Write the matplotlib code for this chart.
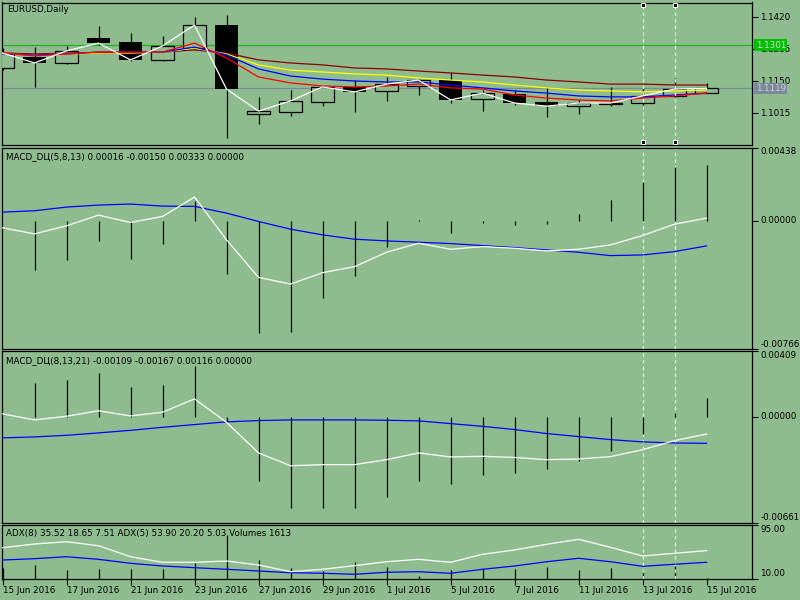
import matplotlib
matplotlib.use('Agg')
import matplotlib.pyplot as plt
import matplotlib.transforms as mtransforms
import numpy as np

# EURUSD daily, 15 Jun - 15 Jul 2016
dates = ['15 Jun 2016', '16 Jun 2016', '17 Jun 2016', '20 Jun 2016', '21 Jun 2016',
         '22 Jun 2016', '23 Jun 2016', '24 Jun 2016', '27 Jun 2016', '28 Jun 2016',
         '29 Jun 2016', '30 Jun 2016', '1 Jul 2016', '4 Jul 2016', '5 Jul 2016',
         '6 Jul 2016', '7 Jul 2016', '8 Jul 2016', '11 Jul 2016', '12 Jul 2016',
         '13 Jul 2016', '14 Jul 2016', '15 Jul 2016']

opens = [1.1205, 1.1251, 1.1226, 1.1331, 1.1315, 1.1239, 1.1289, 1.1386, 1.1011, 1.1019, 1.1061, 1.1125,
         1.1108, 1.1129, 1.1154, 1.1074, 1.1095, 1.1061, 1.1044, 1.1053, 1.1057, 1.1087, 1.1099]
highs = [1.1290, 1.1293, 1.1298, 1.1382, 1.1352, 1.1340, 1.1420, 1.1428, 1.1082, 1.1112, 1.1128, 1.1154,
         1.1167, 1.1158, 1.1184, 1.1112, 1.1112, 1.1125, 1.1070, 1.1125, 1.1121, 1.1162, 1.1142]
lows = [1.1195, 1.1125, 1.1222, 1.1302, 1.1236, 1.1234, 1.1287, 1.0910, 1.0968, 1.1002, 1.1045, 1.1019,
        1.1066, 1.1091, 1.1057, 1.1023, 1.1049, 1.0998, 1.1011, 1.1044, 1.1036, 1.1082, 1.1099]
closes = [1.1268, 1.1226, 1.1277, 1.1310, 1.1239, 1.1298, 1.1386, 1.1116, 1.1023, 1.1066, 1.1125, 1.1104,
          1.1137, 1.1154, 1.1070, 1.1099, 1.1057, 1.1044, 1.1057, 1.1057, 1.1087, 1.1116, 1.1119]

ma_red = [1.1268, 1.1256, 1.1264, 1.1272, 1.1272, 1.1272, 1.1310, 1.1247, 1.1167, 1.1142, 1.1129, 1.1125,
          1.1129, 1.1137, 1.1121, 1.1116, 1.1091, 1.1078, 1.1070, 1.1066, 1.1078, 1.1087, 1.1099]
ma_blue = [1.1264, 1.1260, 1.1264, 1.1272, 1.1272, 1.1272, 1.1293, 1.1260, 1.1201, 1.1171, 1.1158, 1.1150,
           1.1146, 1.1146, 1.1133, 1.1121, 1.1108, 1.1099, 1.1087, 1.1083, 1.1083, 1.1091, 1.1099]
ma_yellow = [1.1264, 1.1260, 1.1264, 1.1268, 1.1268, 1.1272, 1.1289, 1.1264, 1.1218, 1.1196, 1.1188, 1.1180,
             1.1175, 1.1163, 1.1154, 1.1146, 1.1133, 1.1121, 1.1112, 1.1108, 1.1104, 1.1108, 1.1112]
ma_maroon = [1.1268, 1.1264, 1.1268, 1.1268, 1.1268, 1.1272, 1.1281, 1.1268, 1.1239, 1.1226, 1.1218, 1.1205,
             1.1201, 1.1192, 1.1184, 1.1175, 1.1167, 1.1154, 1.1146, 1.1137, 1.1137, 1.1133, 1.1133]

nan = np.nan
macd1_hist = [nan, -0.00294, -0.00234, -0.00120, -0.00228, -0.00138, 0.00120, -0.00318, -0.00671, -0.00665,
              -0.00462, -0.00329, -0.00156, 0.00004, -0.00072, -0.00012, -0.00024, -0.00019, 0.00038, 0.00124,
              0.00234, 0.00324, 0.00333]
macd1_main = [-0.00042, -0.00078, -0.00030, 0.00034, -0.00010, 0.00026, 0.00142, -0.00114, -0.00338, -0.00378,
              -0.00310, -0.00274, -0.00188, -0.00134, -0.00170, -0.00154, -0.00164, -0.00180, -0.00170, -0.00144,
              -0.00088, -0.00020, 0.00016]
macd1_signal = [0.00052, 0.00060, 0.00082, 0.00094, 0.00100, 0.00088, 0.00086, 0.00046, -0.00004, -0.00050,
                -0.00084, -0.00110, -0.00120, -0.00128, -0.00136, -0.00148, -0.00160, -0.00174, -0.00188, -0.00208,
                -0.00204, -0.00184, -0.00150]

macd2_hist = [nan, 0.00211, 0.00225, 0.00274, 0.00186, 0.00194, 0.00315, -0.00036, -0.00405, -0.00572,
              -0.00568, -0.00572, -0.00505, -0.00405, -0.00421, -0.00367, -0.00355, -0.00330, -0.00280, -0.00217,
              -0.00108, 0.00023, 0.00116]
macd2_main = [0.00017, -0.00021, 0.00002, 0.00036, 0.00004, 0.00027, 0.00110, -0.00036, -0.00227, -0.00307,
              -0.00300, -0.00300, -0.00269, -0.00227, -0.00252, -0.00248, -0.00255, -0.00269, -0.00265, -0.00250,
              -0.00207, -0.00150, -0.00109]
macd2_signal = [-0.00133, -0.00127, -0.00117, -0.00102, -0.00086, -0.00067, -0.00050, -0.00033, -0.00025, -0.00021,
                -0.00021, -0.00021, -0.00023, -0.00027, -0.00044, -0.00061, -0.00081, -0.00106, -0.00125, -0.00144,
                -0.00158, -0.00165, -0.00167]

adx5 = [58.5, 64.3, 67.9, 61.6, 44.3, 35.5, 35.5, 37.5, 31.3, 20.7, 24.5, 30.2, 36.4, 40.2, 35.5, 48.1,
        54.9, 63.8, 71.7, 59.1, 45.4, 49.7, 53.90]
adx8 = [39.1, 41.2, 44.3, 40.2, 33.9, 29.7, 27.0, 24.5, 21.8, 19.1, 18.2, 16.6, 19.8, 20.7, 18.2, 24.5,
        29.7, 36.4, 41.8, 36.4, 29.2, 32.4, 35.52]
volumes = [20000, 26000, 16000, 18000, 18000, 18000, 30000, 86000, 36000, 20000, 14000, 32000, 22000, 4000,
           16000, 20000, 18000, 22000, 16000, 20000, 12000, 24000, 1613]

bid_line = 1.1119
green_line = 1.1301
marked_bars = [20, 21]

bg = '#8FBC8F'
fs = 6.3
plt.rcParams['font.family'] = ['DejaVu Sans']

fig = plt.figure(figsize=(8, 6), dpi=100, facecolor=bg)
W, H = 800.0, 600.0


def style_right(ax):
    ax.yaxis.tick_right()
    ax.yaxis.set_label_position('right')
    ax.tick_params(axis='y', length=4, width=0.8, pad=2, labelsize=fs, colors='black', direction='out',
                   left=False, labelleft=False, right=True, labelright=True)


def panel(top, bottom):
    ax = fig.add_axes([2 / W, 1 - bottom / H, 750 / W, (bottom - top) / H])
    ax.set_facecolor(bg)
    for s in ax.spines.values():
        s.set_color('black')
        s.set_linewidth(0.9)
    ax.set_xlim(-0.016, 23.42)
    style_right(ax)
    ax.set_xticks([])
    return ax


def right_labels(ax, ticks, texts, vas):
    ax.set_yticks(ticks)
    ax.set_yticklabels(texts)
    for lab, va in zip(ax.get_yticklabels(), vas):
        lab.set_va(va)


def mark_lines(ax):
    for b in marked_bars:
        ax.axvline(b, color='white', lw=0.8, ls=(0, (3, 3)), zorder=1.5)


x = np.arange(len(dates))
o, h, l, c = map(np.array, (opens, highs, lows, closes))

# ---- main price panel
ax = panel(2.5, 145)
ax.set_ylim(1.0880, 1.14812)
ax.axhline(green_line, color='#1EB41E', lw=0.9, zorder=1)
ax.axhline(bid_line, color='#7A8A9A', lw=0.9, zorder=1)
ax.vlines(x, l, h, color='black', lw=0.9, zorder=2)
up = c >= o
body = np.maximum(np.abs(c - o), 0.00006)
ax.bar(x[~up], body[~up], bottom=np.minimum(o, c)[~up], width=0.72, color='black', zorder=3)
ax.bar(x[up], body[up], bottom=np.minimum(o, c)[up], width=0.72, facecolor=bg,
       edgecolor='black', linewidth=0.9, zorder=3)
ax.plot(x, ma_maroon, color='#8B0000', lw=0.9, zorder=4)
ax.plot(x, ma_yellow, color='#FFFF00', lw=0.9, zorder=4)
ax.plot(x, ma_blue, color='#0000FF', lw=0.9, zorder=4)
ax.plot(x, ma_red, color='#FF0000', lw=0.9, zorder=4)
ax.plot(x, closes, color='white', lw=0.9, zorder=5)
right_labels(ax, [1.1420, 1.1285, 1.1150, 1.1015], ['1.1420', '1.1285', '1.1150', '1.1015'],
             ['center'] * 4)
tr = mtransforms.blended_transform_factory(ax.transAxes, ax.transData)
ax.text(1.005, green_line, f'{green_line:.4f}', transform=tr, fontsize=fs, color='#D8D8D8',
        va='center', ha='left', zorder=10, clip_on=False,
        bbox=dict(boxstyle='square,pad=0.15', fc='#00C000', ec='none'))
ax.text(1.005, bid_line, f'{bid_line:.4f}', transform=tr, fontsize=fs, color='#D0D0D0',
        va='center', ha='left', zorder=10, clip_on=False,
        bbox=dict(boxstyle='square,pad=0.15', fc='#7A8A9A', ec='none'))
trx = mtransforms.blended_transform_factory(ax.transData, ax.transAxes)
for b in marked_bars:
    ax.plot([b, b], [0.021, 0.982], transform=trx, color='white', lw=0.8, ls=(0, (3, 3)), zorder=6)
    ax.plot([b, b], [0.021, 0.982], transform=trx, ls='none', marker='s', ms=3.2,
            mfc='black', mec='white', mew=0.7, zorder=7, clip_on=False)
fig.text(7 / W, 1 - 9.5 / H, 'EURUSD,Daily', fontsize=fs, va='center', ha='left')

# ---- MACD (5,8,13)
ax1 = panel(147.5, 349)
ax1.set_ylim(-0.00766, 0.00438)
mark_lines(ax1)
ax1.vlines(x, 0, np.nan_to_num(macd1_hist), color='black', lw=0.9, zorder=2)
ax1.plot(x, macd1_signal, color='#0000FF', lw=0.9, zorder=3)
ax1.plot(x, macd1_main, color='white', lw=0.9, zorder=4)
right_labels(ax1, [0.00438, 0.0, -0.00766], ['0.00438', '0.00000', '-0.00766'], ['top', 'center', 'bottom'])
fig.text(6 / W, 1 - 156.5 / H, 'MACD_DЦ(5,8,13) 0.00016 -0.00150 0.00333 0.00000',
         fontsize=fs, va='center', ha='left')

# ---- MACD (8,13,21)
ax2 = panel(351, 522.5)
ax2.set_ylim(-0.00661, 0.00409)
mark_lines(ax2)
ax2.vlines(x, 0, np.nan_to_num(macd2_hist), color='black', lw=0.9, zorder=2)
ax2.plot(x, macd2_signal, color='#0000FF', lw=0.9, zorder=3)
ax2.plot(x, macd2_main, color='white', lw=0.9, zorder=4)
right_labels(ax2, [0.00409, 0.0, -0.00661], ['0.00409', '0.00000', '-0.00661'], ['top', 'center', 'bottom'])
fig.text(6 / W, 1 - 360.5 / H, 'MACD_DЦ(8,13,21) -0.00109 -0.00167 0.00116 0.00000',
         fontsize=fs, va='center', ha='left')

# ---- ADX + volumes
ax3 = panel(524.5, 578.5)
vax = ax3.twinx()
vax.set_ylim(0, 106000)
vax.set_xlim(ax3.get_xlim())
vax.axis('off')
vax.patch.set_visible(True)
vax.patch.set_facecolor(bg)
vax.vlines(x, 0, volumes, color='black', lw=0.9, zorder=2)
ax3.set_zorder(vax.get_zorder() + 1)
ax3.patch.set_visible(False)
style_right(ax3)
ax3.set_ylim(10, 95)
mark_lines(ax3)
ax3.plot(x, adx8, color='#0000FF', lw=0.9, zorder=3)
ax3.plot(x, adx5, color='white', lw=0.9, zorder=4)
right_labels(ax3, [95, 10], ['95.00', '10.00'], ['top', 'bottom'])
ax3.set_xticks(x[::2])
ax3.set_xticklabels(dates[::2], ha='left')
ax3.tick_params(axis='x', length=4, width=0.8, pad=1.5, labelsize=fs, direction='out')
fig.text(6 / W, 1 - 533.5 / H, 'ADX(8) 35.52 18.65 7.51 ADX(5) 53.90 20.20 5.03 Volumes 1613',
         fontsize=fs, va='center', ha='left')

fig.savefig('out.png', dpi=100, facecolor=bg)
